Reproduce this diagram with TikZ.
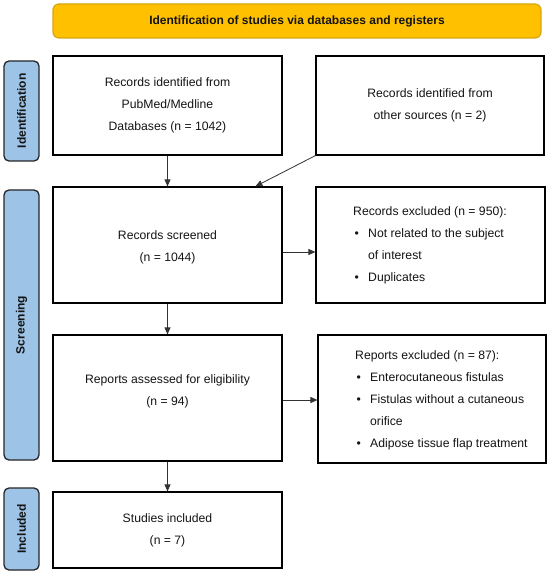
\documentclass[tikz,border=0pt]{standalone}
\usepackage{fontspec}
\setmainfont{Liberation Sans}
\usetikzlibrary{arrows.meta}
\definecolor{bannerfill}{HTML}{FFC000}
\definecolor{bannerdraw}{HTML}{D9A60C}
\definecolor{sidefill}{HTML}{9DC3E6}
\definecolor{sidedraw}{HTML}{262626}
\definecolor{txt}{HTML}{141414}
\definecolor{arrowc}{HTML}{333333}
\newcommand{\bodyfont}{\fontsize{12.2}{22}\selectfont}
\newcommand{\bul}{\hspace*{1.5pt}\makebox[13.5pt][l]{\textbullet}}
\newcommand{\cont}{\hspace*{15pt}}
\begin{document}
\begin{tikzpicture}[x=1pt,y=-1pt,
  box/.style={draw=black,line width=1.2pt,fill=white,inner sep=0pt,align=center,font=\bodyfont,text=txt},
  side/.style={draw=sidedraw,line width=1.3pt,fill=sidefill,rounded corners=5pt,rotate=90,minimum height=35pt,inner sep=0pt,font=\fontsize{12}{14}\selectfont\bfseries,text=txt},
  banner/.style={draw=bannerdraw,line width=1.2pt,fill=bannerfill,rounded corners=6pt,inner sep=0pt,minimum width=488pt,minimum height=34pt,font=\fontsize{12}{14}\selectfont\bfseries,text=txt},
  arr/.style={draw=arrowc,line width=0.8pt,-{Triangle[length=7pt,width=6pt]}},
  listtext/.style={anchor=west,align=left,font=\bodyfont,text=txt,inner sep=0pt},
  plain/.style={align=center,font=\bodyfont,text=txt,inner sep=0pt}
]
\useasboundingbox (0,0) rectangle (550,577);
\fill[white] (0,0) rectangle (550,577);

% banner
\node[banner] (ban) at (297,21) {Identification of studies via databases and registers};

% side labels
\node[side,minimum width=100pt] (sid) at (21.5,111) {Identification};
\node[side,minimum width=270pt] (sscr) at (21.5,325) {Screening};
\node[side,minimum width=82pt] (sinc) at (21.5,529) {Included};

% boxes
\node[box,minimum width=229pt,minimum height=99pt] (A) at (167.5,105.5)
  {Records identified from\\PubMed/Medline\\Databases (n = 1042)};
\node[box,minimum width=228pt,minimum height=99pt] (B) at (430,105.5)
  {Records identified from\\other sources (n = 2)};
\node[box,minimum width=229pt,minimum height=116pt] (S) at (167.5,245) {};
\node[plain] (Stext) at (167.5,247) {Records screened\\(n = 1044)};
\node[box,minimum width=229pt,minimum height=116pt] (RE) at (430.5,245) {};
\node[listtext] (REtext) at (353,245.5)
  {Records excluded (n = 950):\\
   \bul Not related to the subject\\
   \cont of interest\\
   \bul Duplicates};
\node[box,minimum width=229pt,minimum height=126pt] (R) at (167.5,398) {};
\node[plain] (Rtext) at (167.5,391) {Reports assessed for eligibility\\(n = 94)};
\node[box,minimum width=228pt,minimum height=128pt] (RP) at (432,399) {};
\node[listtext] (RPtext) at (355,400.5)
  {Reports excluded (n = 87):\\
   \bul Enterocutaneous fistulas\\
   \bul Fistulas without a cutaneous\\
   \cont orifice\\
   \bul Adipose tissue flap treatment};
\node[box,minimum width=229pt,minimum height=76pt] (St) at (167.5,530)
  {Studies included\\(n = 7)};

% connectors
\draw[arr] (A) -- (S);
\draw[arr] (B.south west) -- ([xshift=203pt]S.north west);
\draw[arr] ([yshift=-7pt]S.east) -- ([yshift=-7pt]RE.west);
\draw[arr] (S) -- (R);
\draw[arr] ([yshift=-2pt]R.east) -- ([yshift=-2pt]R.east -| RP.west);
\draw[arr] (R) -- (St);
\end{tikzpicture}
\end{document}
